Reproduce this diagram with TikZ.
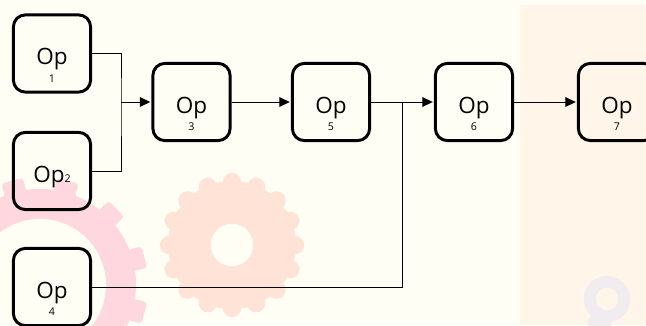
\documentclass[tikz,border=0pt]{standalone}
\usepackage{fontspec}
\setmainfont{Open Sans}
\usetikzlibrary{arrows.meta}

\definecolor{cream}{HTML}{FFFEF5}
\definecolor{beige}{HTML}{FFF6E9}
\definecolor{gearpink}{HTML}{FFD7DE}
\definecolor{gearorange}{HTML}{FFE3D7}
\definecolor{geargray}{HTML}{F0ECEF}

\begin{document}
\begin{tikzpicture}[x=0.025cm,y=-0.025cm]
	\tikzset{
	opbox/.style={draw, line width=2.1pt, rounded corners=0.3cm, minimum size=1.93cm},
	optext/.style={anchor=base, inner sep=0pt, font=\fontsize{16}{19}\selectfont},
	opnum/.style={anchor=base, inner sep=0pt, font=\fontsize{7.6}{9}\selectfont},
	wire/.style={line width=0.7pt},
	arrow/.style={wire, -{Triangle[length=0.26cm,width=0.24cm]}, shorten >=0.8pt}}

	\useasboundingbox (0,0) rectangle (646,325);
	\clip (0,0) rectangle (646,325);

	% background
	\fill[cream] (0,0) rectangle (646,325);
	\fill[beige] (520,5) rectangle (646,325);

	% watermark gears
	\fill[gearpink] (40,285) circle (2.4cm);
	\foreach \a in {15,45,...,345}
		\fill[gearpink, shift={(40,285)}, rotate=\a, rounded corners=0.08cm] (90,-11) rectangle (108,11);
	\fill[cream] (40,285) circle (1.65cm);

	\fill[gearorange] (232,245) circle (1.6cm);
	\foreach \a in {0,22.5,...,337.5}
		\fill[gearorange, shift={(232,245)}] (\a:63) circle (0.23cm);
	\fill[cream] (232,245) circle (0.53cm);

	\fill[geargray] (607,299) circle (0.58cm);
	\fill[geargray, rotate around={-20:(607,299)}] (597,305) rectangle (620,330);
	\fill[beige] (607,299) circle (0.28cm);

	% boxes
	\foreach \n/\x/\y in {1/52/53.5, 3/191.5/102, 4/52/287, 5/331/102, 6/474/102, 7/617/102} {
		\node[opbox] (op\n) at (\x,\y) {};
		\node[optext] (txt\n) at (\x,\y+11) {Op};
		\node[opnum] (num\n) at (\x,\y+28.5) {\n};
	}
	\node[opbox] (op2) at (52,171) {};
	\node[optext] (txt2) at (52,182) {Op{\fontsize{7.6}{9}\selectfont 2}};

	% connectors
	\coordinate (j1) at (121,102);
	\coordinate (j2) at (402,102);

	\draw[wire] (op1.east) -| (j1) |- (op2.east);
	\draw[arrow] (j1) -- (op3.west);
	\draw[arrow] (op3) -- (op5);
	\draw[arrow] (op5) -- (op6);
	\draw[wire] (op4.east) -| (j2);
	\draw[arrow] (op6) -- (op7);

\end{tikzpicture}
\end{document}
